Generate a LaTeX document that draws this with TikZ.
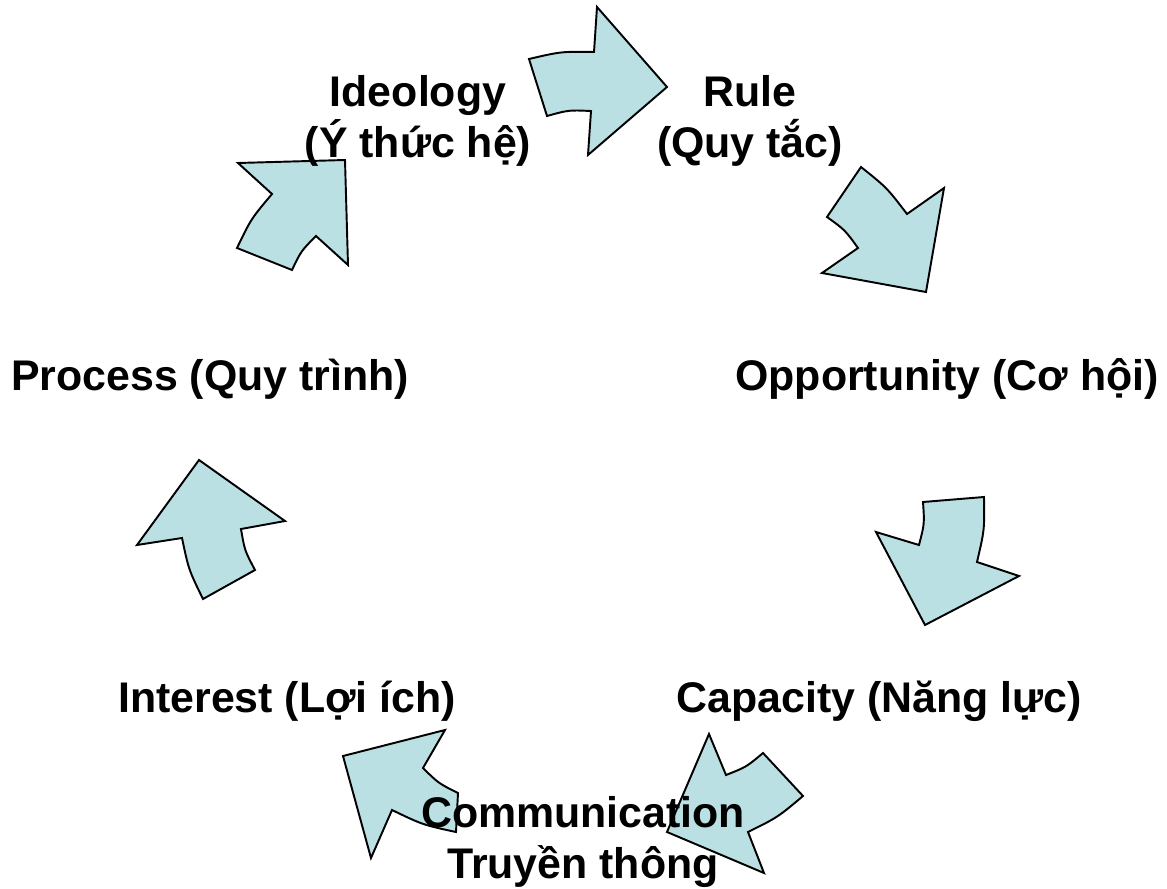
\documentclass[tikz,border=0pt]{standalone}
\usepackage{fontspec}
\setmainfont{Liberation Sans}
\usepackage{xcolor}
\definecolor{arrowfill}{RGB}{187,224,227}

\begin{document}
\begin{tikzpicture}
		[x=0.02cm,y=-0.02cm,
		 blk/.style={draw=black,line width=1.1pt,line join=miter,fill=arrowfill},
		 lbl/.style={font=\bfseries\fontsize{24.4}{28.5}\selectfont,align=center,anchor=base,inner sep=0pt}]
		\useasboundingbox (0,0) rectangle (1167,889);
		% block arrows round the cycle
		\draw[blk] (529,59) .. controls (561.1,51.5) .. (594,52) -- (597,7) -- (667,87)
			-- (588,155) -- (591,111) .. controls (568.6,110) .. (547,116) -- cycle;
		\draw[blk] (861,167) .. controls (886.9,187.7) .. (907,214) -- (944,188) -- (926,292)
			-- (822,273) -- (858,248) .. controls (845,230) .. (827,217) -- cycle;
		\draw[blk] (923,502) -- (984,497) .. controls (984.5,529.9) .. (977,562) -- (1019,576)
			-- (925,625) -- (876,532) -- (919,545) .. controls (924.5,523.8) .. cycle;
		\draw[blk] (667,832) -- (709,734) -- (726,775) .. controls (746.3,767) .. (763,753)
			-- (803,796) .. controls (777.7,817.3) .. (748,832) -- (764,873) -- cycle;
		\draw[blk] (343,756) -- (445,730) -- (423,768) .. controls (438.5,783.3) .. (458,793)
			-- (456,832) .. controls (422.7,824.8) .. (392,810) -- (371,858) -- cycle;
		\draw[blk] (199,460) -- (285,521) -- (241,529) .. controls (244.7,550.6) .. (255,570)
			-- (203,599) .. controls (188.7,569.8) .. (182,538) -- (137,545) -- cycle;
		\draw[blk] (345,160) -- (348,265) -- (316,236) .. controls (301.1,251) .. (292,270)
			-- (237,248) .. controls (251.1,218.8) .. (272,194) -- (238,163) -- cycle;
		% labels (base = last line)
		\node[lbl] (ideo) at (418,157) {Ideology\\(Ý thức hệ)};
		\node[lbl] (rule) at (750,157) {Rule\\(Quy tắc)};
		\node[lbl] (proc) at (210,390) {Process (Quy trình)};
		\node[lbl] (opp)  at (947,390) {Opportunity (Cơ hội)};
		\node[lbl] (int)  at (287,712) {Interest (Lợi ích)};
		\node[lbl] (cap)  at (879,712) {Capacity (Năng lực)};
		\node[lbl] (comm) at (583,878) {Communication\\Truyền thông};
\end{tikzpicture}
\end{document}
